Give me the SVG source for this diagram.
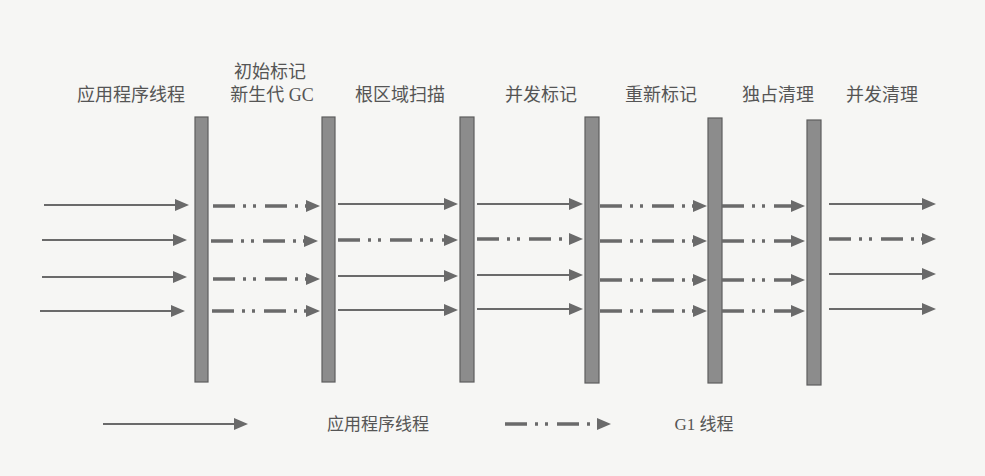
<svg xmlns="http://www.w3.org/2000/svg" width="985" height="476" viewBox="0 0 985 476">
<style>
.bg{fill:#f6f6f4}
.bar{fill:#8c8c8c;stroke:#5e5e5e;stroke-width:1.2}
.lbl{font-family:"Liberation Serif","Noto Sans CJK SC",serif;font-size:18px;fill:#555;text-anchor:middle}
.leg{font-family:"Liberation Serif","Noto Sans CJK SC",serif;font-size:17px;fill:#555;text-anchor:middle}
.s{stroke:#6a6a6a;stroke-width:2;fill:none;marker-end:url(#ah)}
.d{stroke:#6a6a6a;stroke-width:3.5;fill:none;stroke-dasharray:22 8 3 7 3 9;marker-end:url(#ah)}
</style>
<defs>
<marker id="ah" markerUnits="userSpaceOnUse" markerWidth="16" markerHeight="14" refX="2" refY="6" orient="auto" overflow="visible">
<path d="M0,0 L14,6 L0,12 z" fill="#6a6a6a"/>
</marker>
</defs>
<rect class="bg" x="0" y="0" width="985" height="476"/>

<g id="labels">
<text class="lbl" x="131" y="101">应用程序线程</text>
<text class="lbl" x="270" y="78">初始标记</text>
<text class="lbl" x="272" y="101">新生代 GC</text>
<text class="lbl" x="400" y="101">根区域扫描</text>
<text class="lbl" x="541" y="101">并发标记</text>
<text class="lbl" x="661" y="101">重新标记</text>
<text class="lbl" x="778" y="101">独占清理</text>
<text class="lbl" x="882" y="101">并发清理</text>
</g>

<g id="bar1"><rect class="bar" x="195" y="117" width="13" height="265"/></g>
<g id="bar2"><rect class="bar" x="322" y="117" width="13" height="265"/></g>
<g id="bar3"><rect class="bar" x="460" y="117" width="14" height="265"/></g>
<g id="bar4"><rect class="bar" x="585" y="117" width="14" height="266"/></g>
<g id="bar5"><rect class="bar" x="708" y="118" width="14" height="265"/></g>
<g id="bar6"><rect class="bar" x="807" y="120" width="14" height="265"/></g>

<g id="connectors">
<!-- seg0 -->
<line class="s" x1="44" y1="205" x2="177" y2="205"/>
<line class="s" x1="42" y1="240" x2="175" y2="240"/>
<line class="s" x1="42" y1="277" x2="175" y2="277"/>
<line class="s" x1="40" y1="311" x2="173" y2="311"/>
<!-- seg1 -->
<line class="d" x1="213" y1="206" x2="308" y2="206"/>
<line class="d" x1="211" y1="241" x2="306" y2="241"/>
<line class="d" x1="213" y1="279" x2="308" y2="279"/>
<line class="d" x1="212" y1="311" x2="308" y2="311"/>
<!-- seg2 -->
<line class="s" x1="338" y1="204" x2="446" y2="204"/>
<line class="d" x1="338" y1="240" x2="446" y2="240"/>
<line class="s" x1="338" y1="276" x2="446" y2="276"/>
<line class="s" x1="338" y1="310" x2="446" y2="310"/>
<!-- seg3 -->
<line class="s" x1="477" y1="204" x2="571" y2="204"/>
<line class="d" x1="477" y1="239" x2="571" y2="239"/>
<line class="s" x1="477" y1="275" x2="571" y2="275"/>
<line class="s" x1="477" y1="309" x2="571" y2="309"/>
<!-- seg4 -->
<line class="d" x1="600" y1="206" x2="695" y2="206"/>
<line class="d" x1="600" y1="241" x2="695" y2="241"/>
<line class="d" x1="600" y1="280" x2="695" y2="280"/>
<line class="d" x1="600" y1="311" x2="695" y2="311"/>
<!-- seg5 -->
<line class="d" x1="722" y1="206" x2="793" y2="206"/>
<line class="d" x1="722" y1="241" x2="793" y2="241"/>
<line class="d" x1="722" y1="280" x2="793" y2="280"/>
<line class="d" x1="722" y1="311" x2="793" y2="311"/>
<!-- seg6 -->
<line class="s" x1="829" y1="204" x2="924" y2="204"/>
<line class="d" x1="829" y1="239" x2="924" y2="239"/>
<line class="s" x1="829" y1="274" x2="924" y2="274"/>
<line class="s" x1="829" y1="309" x2="924" y2="309"/>
</g>

<g id="legend">
<line class="s" x1="103" y1="424" x2="236" y2="424"/>
<text class="leg" x="378" y="430">应用程序线程</text>
<line class="d" x1="505" y1="424" x2="599" y2="424"/>
<text class="leg" x="704" y="430">G1 线程</text>
</g>
</svg>
